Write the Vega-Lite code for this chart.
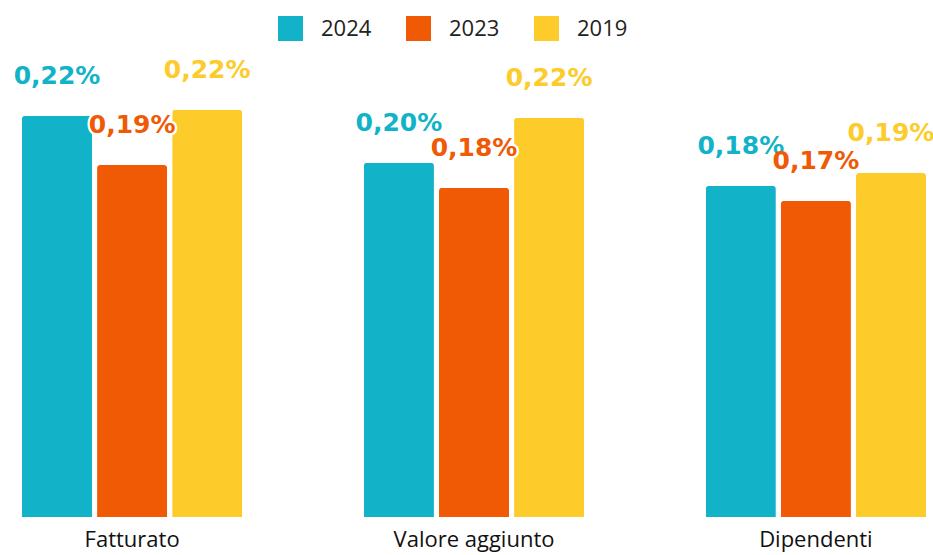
{
  "$schema": "https://vega.github.io/schema/vega-lite/v6.json",
  "width": 904,
  "height": 508,
  "autosize": {"type": "none"},
  "padding": {"left": 22, "top": 9, "right": 7, "bottom": 38},
  "background": "white",
  "data": {
    "values": [
      {"indicatore": "Fatturato", "anno": "2024", "quota": 0.002211},
      {"indicatore": "Fatturato", "anno": "2023", "quota": 0.001940},
      {"indicatore": "Fatturato", "anno": "2019", "quota": 0.002245},
      {"indicatore": "Valore aggiunto", "anno": "2024", "quota": 0.001952},
      {"indicatore": "Valore aggiunto", "anno": "2023", "quota": 0.001814},
      {"indicatore": "Valore aggiunto", "anno": "2019", "quota": 0.002200},
      {"indicatore": "Dipendenti", "anno": "2024", "quota": 0.001825},
      {"indicatore": "Dipendenti", "anno": "2023", "quota": 0.001742},
      {"indicatore": "Dipendenti", "anno": "2019", "quota": 0.001896}
    ]
  },
  "encoding": {
    "x": {
      "field": "indicatore", "type": "nominal",
      "sort": ["Fatturato", "Valore aggiunto", "Dipendenti"],
      "scale": {"paddingInner": 0.356, "paddingOuter": 0},
      "axis": {"title": null, "domain": false, "ticks": false, "labelAngle": 0, "labelPadding": 12, "labelFont": "Open Sans", "labelFontSize": 22, "labelColor": "#111111"}
    },
    "xOffset": {
      "field": "anno", "type": "nominal",
      "sort": ["2024", "2023", "2019"],
      "scale": {"paddingInner": 0.067, "paddingOuter": 0}
    },
    "y": {
      "field": "quota", "type": "quantitative",
      "scale": {"domain": [0, 0.0028], "nice": false},
      "axis": null
    }
  },
  "layer": [
    {
      "mark": {"type": "bar", "cornerRadiusTopLeft": 3, "cornerRadiusTopRight": 3},
      "encoding": {
        "color": {
          "field": "anno", "type": "nominal",
          "sort": ["2024", "2023", "2019"],
          "scale": {"domain": ["2024", "2023", "2019"], "range": ["#12B3C8", "#F05A05", "#FDCB2A"]},
          "legend": {
            "title": null, "orient": "none", "direction": "horizontal",
            "legendX": 256, "legendY": 7,
            "symbolType": "square", "symbolSize": 625, "symbolStrokeWidth": 0, "symbolOpacity": 1,
            "labelFont": "Open Sans", "labelFontSize": 22, "labelColor": "#222222",
            "labelOffset": 18, "columnPadding": 34, "padding": 0
          }
        }
      }
    },
    {
      "mark": {"type": "text", "baseline": "alphabetic", "dy": -32, "font": "DejaVu Sans", "fontWeight": "bold", "fontSize": 25, "stroke": "white", "strokeWidth": 5, "strokeJoin": "round"},
      "encoding": {
        "text": {"field": "quota", "type": "quantitative", "format": ".2%"}
      }
    },
    {
      "mark": {"type": "text", "baseline": "alphabetic", "dy": -32, "font": "DejaVu Sans", "fontWeight": "bold", "fontSize": 25},
      "encoding": {
        "text": {"field": "quota", "type": "quantitative", "format": ".2%"},
        "color": {"field": "anno", "type": "nominal", "sort": ["2024", "2023", "2019"], "legend": null}
      }
    }
  ],
  "config": {
    "view": {"stroke": null},
    "locale": {"number": {"decimal": ",", "thousands": ".", "grouping": [3], "currency": ["", " €"]}}
  }
}
